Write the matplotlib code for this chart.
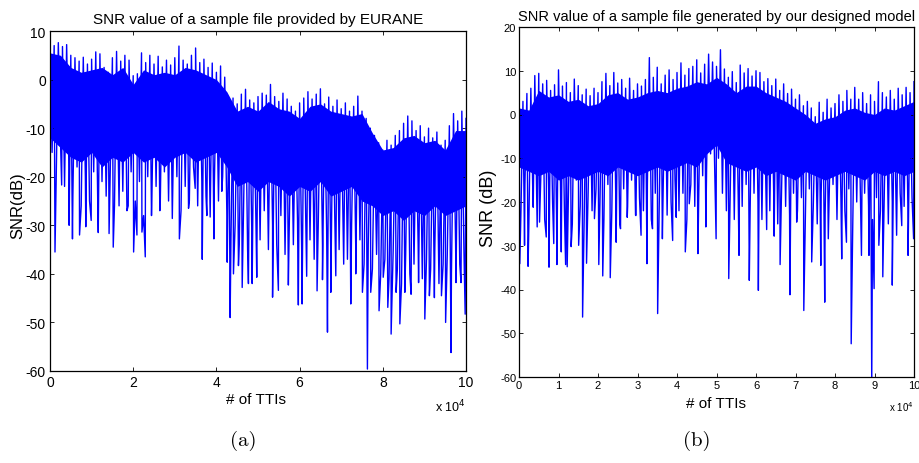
import numpy as np
import matplotlib
matplotlib.use("Agg")
import matplotlib.pyplot as plt
from matplotlib.ticker import FuncFormatter

# x positions in TTIs: one peak every 1000 TTIs, one trough halfway between,
# the edges of the solid part of the trace are read every 2500 TTIs
peak_tti = np.arange(0, 100001, 1000)
trough_tti = np.arange(500, 100000, 1000)
core_tti = np.arange(0, 100001, 2500)

# --- (a) sample file provided by EURANE ---
eurane_peaks = [
    7.5, 7.0, 7.6, 6.8, 7.2, 5.0, 4.5, 3.8, 4.6, 3.2,
    4.2, 5.7, 5.3, 2.5, 1.5, 4.5, 5.8, 3.8, 5.0, 4.0,
    0.8, 1.2, 5.5, 3.5, 5.0, 3.2, 4.8, 2.6, 4.0, 3.0,
    4.5, 6.9, 4.0, 3.2, 5.0, 6.5, 3.5, 4.2, 2.5, 3.4,
    1.5, 2.8, 0.5, -4.5, -3.8, -5.0, -3.0, -2.0, -4.2, -4.8,
    -3.5, -2.8, -3.2, -1.0, -3.5, -4.5, -2.8, -4.0, -5.5, -6.5,
    -4.8, -3.8, -2.5, -4.0, -3.0, -1.9, -5.0, -3.6, -5.5, -4.2,
    -6.0, -4.8, -6.5, -5.5, -3.4, -6.5, -8.0, -10.0, -11.5, -13.0,
    -14.5, -12.5, -13.5, -11.5, -10.5, -9.0, -7.5, -8.5, -10.5, -9.5,
    -11.8, -10.0, -12.0, -10.8, -13.5, -12.5, -9.5, -7.0, -8.5, -6.5, -8.0,
]
eurane_troughs = [
    -15, -20, -12, -22, -16, -24, -18, -26, -20, -25,
    -19, -27, -21, -24, -18, -26, -20, -23, -27, -19,
    -25, -21, -28, -20, -24, -22, -26, -19, -25, -23,
    -20, -27, -22, -25, -18, -26, -21, -24, -28, -22,
    -25, -20, -27, -33, -30, -34, -28, -35, -31, -29,
    -33, -27, -35, -30, -34, -28, -36, -31, -34, -29,
    -35, -30, -33, -37, -29, -34, -31, -36, -30, -35,
    -32, -37, -30, -35, -33, -38, -34, -39, -36, -40,
    -37, -41, -35, -39, -42, -36, -40, -38, -34, -41,
    -37, -39, -35, -42, -38, -36, -40, -34, -38, -35,
]
eurane_core_top = [
    5.5, 5.0, 2.5, 1.5, 2.0, 2.5, 1.0, 2.5, -1.0, 2.0,
    1.0, 1.5, 1.0, 2.5, 2.0, 1.0, 0.0, -2.5, -6.5, -5.5,
    -6.5, -4.5, -6.0, -6.5, -8.0, -5.5, -5.0, -6.5, -7.0, -7.5,
    -7.0, -11.0, -14.5, -14.0, -12.0, -11.5, -13.0, -12.5, -14.5, -10.5,
    -10.5,
]
eurane_core_bottom = [
    -12, -14, -16, -17, -15, -18, -16, -17, -15, -17,
    -16, -18, -16, -15, -17, -16, -15, -18, -22, -21,
    -23, -21, -22, -24, -22, -23, -21, -24, -23, -22,
    -25, -26, -28, -27, -29, -27, -28, -26, -28, -27,
    -26,
]
eurane_spike_tti = [
    1200, 2800, 4600, 5400, 7100, 8600, 9900, 11600, 14200, 15200,
    16600, 18800, 20100, 20900, 22100, 22900, 24400, 26400, 29400, 31100,
    33300, 34900, 36600, 37700, 38500, 39400, 41300, 42600, 43300, 44100,
    45300, 46200, 47700, 48600, 49700, 53500, 54900, 57300, 59700, 60600,
    61700, 64200, 65500, 66700, 67500, 68700, 70600, 72300, 73500, 75100,
    76300, 77100, 79100, 80100, 81200, 82000, 83200, 84100, 85300, 86800,
    88600, 90100, 91200, 92400, 94100, 95100, 96400, 97600, 98800, 99800,
]
eurane_spike_snr = [
    -35.5, -21.7, -30, -32.8, -32, -30.3, -29, -31.5, -31.7, -34.5,
    -26, -26, -35.5, -32, -31.4, -36.5, -28, -27, -28.6, -32.8,
    -26.5, -22.4, -37, -28, -28.3, -32.8, -23, -37.6, -49, -40,
    -38.3, -42.8, -42, -42, -40.7, -44.8, -43.4, -42.3, -46.4, -46.2,
    -40.5, -43.5, -41.2, -52, -43.8, -40.4, -38, -46.2, -40, -43.8,
    -59.6, -43.8, -47.6, -40.7, -46.9, -52.4, -43.8, -50.3, -43.8, -44.2,
    -41.8, -49.3, -44.5, -44.9, -44.5, -50, -56.2, -41.8, -41.8, -48.3,
]

# --- (b) sample file generated by our designed model ---
model_peaks = [
    5.5, 3.0, 4.8, 6.0, 8.9, 9.4, 7.0, 7.8, 5.5, 6.8,
    10.2, 6.5, 7.3, 5.0, 8.1, 6.6, 4.5, 5.8, 4.3, 6.0,
    5.0, 7.5, 9.4, 6.6, 9.6, 7.2, 8.0, 6.0, 8.3, 5.5,
    7.0, 6.5, 8.0, 13.0, 8.5, 10.8, 7.0, 9.0, 10.2, 8.0,
    9.6, 11.8, 9.0, 10.5, 11.0, 12.5, 9.5, 11.5, 13.8, 12.0,
    11.0, 14.8, 10.4, 8.5, 9.8, 7.3, 11.3, 9.5, 10.5, 8.8,
    10.0, 9.6, 7.5, 8.2, 6.6, 8.1, 5.5, 7.0, 4.8, 5.8,
    3.5, 4.5, 2.0, 3.0, 1.5, -0.5, 2.8, 0.5, 3.5, 1.5,
    2.5, 4.5, 3.0, 5.5, 3.5, 6.2, 3.5, 5.0, 2.5, 4.5,
    3.0, 7.5, 5.0, 4.0, 5.5, 3.5, 6.0, 4.5, 6.2, 5.0, 7.5,
]
model_troughs = [
    -22, -16, -25, -18, -21, -15, -24, -17, -20, -23,
    -16, -22, -19, -25, -15, -21, -24, -18, -22, -17,
    -20, -24, -16, -22, -19, -25, -17, -21, -15, -23,
    -19, -22, -16, -24, -18, -21, -17, -23, -20, -15,
    -22, -18, -24, -16, -21, -19, -14, -12, -9, -11,
    -10, -18, -22, -17, -24, -19, -21, -16, -23, -18,
    -20, -24, -17, -22, -19, -25, -16, -21, -23, -18,
    -22, -19, -24, -17, -21, -25, -18, -23, -20, -16,
    -24, -19, -22, -17, -25, -20, -23, -18, -21, -24,
    -19, -22, -17, -25, -20, -23, -18, -21, -24, -19,
]
model_core_top = [
    1.5, 1.0, 5.5, 4.0, 4.5, 3.0, 3.5, 2.0, 2.5, 4.5,
    5.0, 3.5, 4.0, 5.0, 5.5, 5.0, 6.0, 6.5, 7.5, 7.0,
    8.5, 7.0, 5.0, 6.5, 6.5, 5.0, 4.0, 3.0, 1.5, 0.0,
    -2.0, -1.0, -0.5, 1.0, 1.5, 0.5, 0.0, 1.5, 1.0, 2.0,
    3.0,
]
model_core_bottom = [
    -12, -13, -14, -13, -15, -14, -15, -14, -13, -14,
    -12, -13, -14, -13, -12, -13, -12, -11, -12, -9,
    -7, -11, -12, -13, -12, -14, -13, -14, -15, -13,
    -14, -15, -14, -13, -14, -15, -13, -14, -13, -14,
    -13,
]
model_spike_tti = [
    200, 1400, 2300, 3600, 4600, 5200, 6900, 7600, 8800, 9600,
    10700, 11800, 12200, 13200, 15100, 16100, 17100, 19100, 20200, 21200,
    23100, 24600, 25700, 27400, 29600, 30900, 32400, 33800, 35100, 36300,
    38900, 39800, 42100, 43100, 45300, 47300, 49900, 53100, 55700, 58300,
    60600, 62700, 64600, 66100, 68600, 70300, 72100, 74100, 76400, 77400,
    78300, 81700, 82900, 84100, 86700, 88600, 89300, 89900, 91100, 92100,
    94500, 95600, 96900, 98500, 99900,
]
model_spike_snr = [
    -34.1, -29.9, -34.7, -21.2, -25.7, -24.6, -28, -34.9, -29.5, -34.3,
    -31.4, -34.3, -34.8, -30.2, -29.9, -46.3, -34, -23.8, -34.3, -36.9,
    -37.3, -29.2, -26.1, -23.5, -23.1, -27.6, -34.1, -26.1, -45.5, -28.4,
    -28.8, -23.5, -31.4, -20.4, -31.8, -25.7, -28.4, -37.5, -32.2, -37.9,
    -40.2, -26.3, -27.8, -34.3, -41.2, -24.6, -44.8, -33.7, -34.5, -42.9,
    -28.4, -33, -29.2, -52.4, -32.2, -32.2, -62, -39.8, -29.9, -37.1,
    -39, -27.6, -25.4, -32.2, -28.4,
]


def snr_trace(peaks, troughs, spike_tti, spike_snr):
    """Merge the read peaks, troughs and deep fades into one time-ordered trace."""
    x = np.concatenate([peak_tti, trough_tti, spike_tti])
    y = np.concatenate([peaks, troughs, spike_snr])
    order = np.argsort(x, kind="stable")
    return x[order], y[order]


plt.rcParams["font.family"] = ["Liberation Sans", "DejaVu Sans"]
plt.rcParams["axes.unicode_minus"] = False

fig = plt.figure(figsize=(9.19, 4.64), dpi=100)
ax_a = fig.add_axes([50 / 919, 1 - 372 / 464, 416 / 919, 340 / 464])
ax_b = fig.add_axes([519 / 919, 1 - 378 / 464, 395 / 919, 350 / 464])

panels = [
    (ax_a, eurane_peaks, eurane_troughs, eurane_core_top, eurane_core_bottom,
     eurane_spike_tti, eurane_spike_snr),
    (ax_b, model_peaks, model_troughs, model_core_top, model_core_bottom,
     model_spike_tti, model_spike_snr),
]
for ax, peaks, troughs, top, bottom, s_tti, s_snr in panels:
    # solid body of the noisy trace, then the individual fades on top of it
    ax.fill_between(core_tti, bottom, top, color="#0000ff", linewidth=0)
    x, y = snr_trace(peaks, troughs, s_tti, s_snr)
    ax.plot(x, y, color="#0000ff", linewidth=1.0)
    ax.set_xlim(0, 100000)
    ax.tick_params(direction="in", top=True, right=True, length=3, width=0.6)
    ax.xaxis.set_major_formatter(FuncFormatter(lambda v, p: f"{v / 1e4:g}"))
    for side in ax.spines.values():
        side.set_linewidth(0.9)

# (a)
ax_a.set_ylim(-60, 10)
ax_a.set_xticks(np.arange(0, 100001, 20000))
ax_a.set_yticks(np.arange(-60, 11, 10))
ax_a.tick_params(labelsize=10, pad=3)
ax_a.set_title("SNR value of a sample file provided by EURANE", fontsize=11, pad=6)
ax_a.set_xlabel("# of TTIs", fontsize=11)
ax_a.xaxis.set_label_coords(0.495, -0.062)
ax_a.set_ylabel("SNR(dB)", fontsize=12)
ax_a.yaxis.set_label_coords(-0.06, 0.49)
ax_a.text(1.0, -0.08, "x 10$^4$", transform=ax_a.transAxes, ha="right",
          va="top", fontsize=9)

# (b)
ax_b.set_ylim(-60, 20)
ax_b.set_xticks(np.arange(0, 100001, 10000))
ax_b.set_yticks(np.arange(-60, 21, 10))
ax_b.tick_params(labelsize=8, pad=2)
ax_b.set_title("SNR value of a sample file generated by our designed model",
               fontsize=10.5, pad=5)
ax_b.set_xlabel("# of TTIs", fontsize=11)
ax_b.xaxis.set_label_coords(0.5, -0.055)
ax_b.set_ylabel("SNR (dB)", fontsize=13)
ax_b.yaxis.set_label_coords(-0.055, 0.486)
ax_b.text(1.0, -0.062, "x 10$^4$", transform=ax_b.transAxes, ha="right",
          va="top", fontsize=7)

fig.text(243 / 919, 1 - 441 / 464, "(a)", family="cmr10", fontsize=15,
         ha="center", va="center")
fig.text(697 / 919, 1 - 441 / 464, "(b)", family="cmr10", fontsize=15,
         ha="center", va="center")

fig.savefig("out.png", dpi=100)
